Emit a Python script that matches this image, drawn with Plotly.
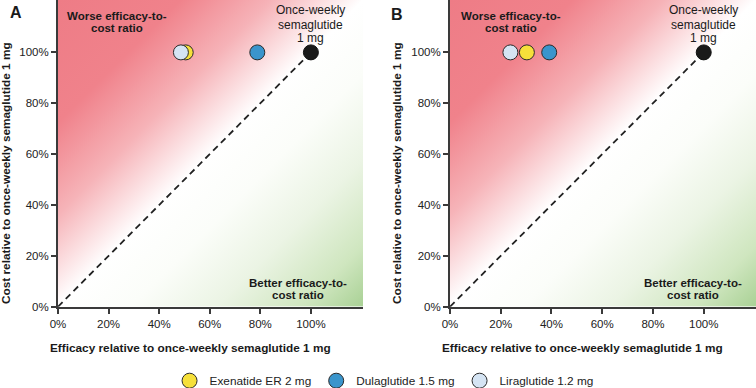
import base64
import plotly.graph_objects as go

# ---- data ----
drugs = ["Exenatide ER 2 mg", "Dulaglutide 1.5 mg", "Liraglutide 1.2 mg"]
drug_colors = ["#f6e03a", "#3a95cc", "#d5e4f3"]
efficacy_A = [50.5, 78.8, 48.6]
cost_A = [100, 100, 100]
efficacy_B = [30.3, 39.1, 23.8]
cost_B = [100, 100, 100]
ref_name = "Once-weekly semaglutide 1 mg"
ref_efficacy = [100]
ref_cost = [100]
tick_vals = [0, 20, 40, 60, 80, 100]
tick_text = ["0%", "20%", "40%", "60%", "80%", "100%"]
x_title = "Efficacy relative to once-weekly semaglutide 1 mg"
y_title = "Cost relative to once-weekly semaglutide 1 mg"

FONT = "Arial, 'Liberation Sans', sans-serif"
AX = "#3a3a3a"

svg = """<svg xmlns='http://www.w3.org/2000/svg' width='100' height='100' viewBox='0 0 100 100' preserveAspectRatio='none'>
<defs><linearGradient id='g' x1='0' y1='0' x2='1' y2='1'>
<stop offset='0' stop-color='#ee7c86'/>
<stop offset='0.2' stop-color='#f0828b'/>
<stop offset='0.35' stop-color='#f6b3b8'/>
<stop offset='0.5' stop-color='#ffffff'/>
<stop offset='0.62' stop-color='#fbfdf9'/>
<stop offset='0.76' stop-color='#ebf4e4'/>
<stop offset='0.9' stop-color='#cfe6bf'/>
<stop offset='1' stop-color='#a9d195'/>
</linearGradient></defs>
<rect x='0' y='0' width='100' height='100' fill='url(#g)'/></svg>"""
src = "data:image/svg+xml;base64," + base64.b64encode(svg.encode()).decode()

fig = go.Figure()

panels = [("x", "y", efficacy_A, cost_A), ("x2", "y2", efficacy_B, cost_B)]
for pi, (xa, ya, eff, cost) in enumerate(panels):
    fig.add_trace(go.Scatter(x=[0, ref_efficacy[0]], y=[0, ref_cost[0]], mode="lines",
                             line=dict(color="#222222", width=1.8, dash="6.5px,4.5px"),
                             xaxis=xa, yaxis=ya, showlegend=False, hoverinfo="skip"))
    for i, d in enumerate(drugs):
        fig.add_trace(go.Scatter(x=[eff[i]], y=[cost[i]], mode="markers", name=d,
                                 marker=dict(size=15, color=drug_colors[i],
                                             line=dict(color="#2a2a2a", width=1)),
                                 xaxis=xa, yaxis=ya, legendgroup=d,
                                 showlegend=(pi == 0)))
    fig.add_trace(go.Scatter(x=ref_efficacy, y=ref_cost, mode="markers", name=ref_name,
                             marker=dict(size=15, color="#1a1a1a",
                                         line=dict(color="#111111", width=1)),
                             xaxis=xa, yaxis=ya, showlegend=False))

axis_common = dict(range=[0, 120.6], showgrid=False, zeroline=False, showline=True,
                   linecolor=AX, linewidth=2, ticks="outside", ticklen=5, tickwidth=1.5,
                   tickcolor=AX, tickvals=tick_vals, ticktext=tick_text, automargin=False,
                   tickfont=dict(family=FONT, size=11.5, color="#222"))

fig.update_layout(
    width=756, height=388, margin=dict(l=0, r=0, t=0, b=0, autoexpand=False),
    paper_bgcolor="white", plot_bgcolor="white",
    xaxis=dict(domain=[58 / 756, 363 / 756], anchor="y", **axis_common),
    yaxis=dict(domain=[1 - 306.7 / 388, 1], anchor="x", **axis_common),
    xaxis2=dict(domain=[450 / 756, 1.0], anchor="y2", **axis_common),
    yaxis2=dict(domain=[1 - 306.7 / 388, 1], anchor="x2", **axis_common),
    showlegend=True,
    legend=dict(orientation="h", x=0.508, xanchor="center", y=1 - 380.7 / 388,
                yanchor="middle", font=dict(family=FONT, size=11.8, color="#222"),
                bgcolor="rgba(0,0,0,0)"),
    font=dict(family=FONT, color="#222"),
)

for xa, ya in [("x", "y"), ("x2", "y2")]:
    fig.add_layout_image(dict(source=src, xref=xa, yref=ya, x=0, y=120.6, sizex=120.6,
                              sizey=120.6, sizing="stretch", xanchor="left", yanchor="top",
                              layer="below"))

def txt(text, x, y, xref, yref, size=12, bold=False, angle=0, xanchor="center"):
    fig.add_annotation(text=("<b>%s</b>" % text) if bold else text, x=x, y=y, xref=xref,
                       yref=yref, showarrow=False, xanchor=xanchor, yanchor="middle",
                       textangle=angle, font=dict(family=FONT, size=size, color="#1a1a1a"))

def py2d(py):
    return (306.7 - py) / 2.54

for xa, ya, worse_x, better_x in [("x", "y", 23.2, 94.7), ("x2", "y2", 24.1, 95.7)]:
    txt("Worse efficacy-to-", worse_x, py2d(16), xa, ya, size=11.5, bold=True)
    txt("cost ratio", worse_x, py2d(28.3), xa, ya, size=11.5, bold=True)
    txt("Once-weekly", 100, py2d(10.7), xa, ya, size=12)
    txt("semaglutide", 100, py2d(25), xa, ya, size=12)
    txt("1 mg", 100, py2d(38.5), xa, ya, size=12)
    txt("Better efficacy-to-", better_x, py2d(283.3), xa, ya, size=11.5, bold=True)
    txt("cost ratio", better_x, py2d(295.3), xa, ya, size=11.5, bold=True)

txt(x_title, 190 / 756, 1 - 348 / 388, "paper", "paper", size=11.8, bold=True)
txt(x_title, 582 / 756, 1 - 348 / 388, "paper", "paper", size=11.8, bold=True)
txt(y_title, 6 / 756, 1 - 173 / 388, "paper", "paper", size=11.8, bold=True, angle=-90)
txt(y_title, 397 / 756, 1 - 173 / 388, "paper", "paper", size=11.8, bold=True, angle=-90)

txt("A", 16 / 756, 1 - 12 / 388, "paper", "paper", size=16, bold=True)
txt("B", 397 / 756, 1 - 15 / 388, "paper", "paper", size=16, bold=True)

fig.write_html("out.html", config={"displayModeBar": False},
               post_script="document.body.style.margin='0';document.body.style.overflow='hidden';")
